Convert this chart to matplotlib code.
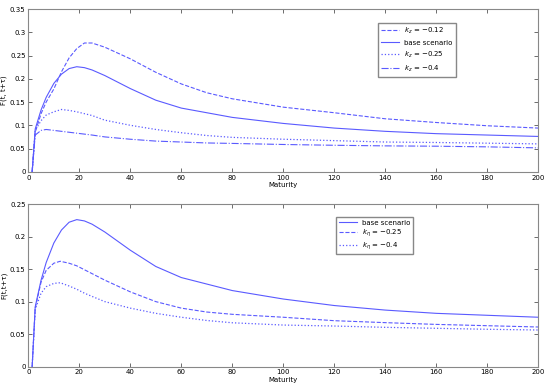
import matplotlib
matplotlib.use('Agg')
import matplotlib.pyplot as plt
from matplotlib.ticker import FormatStrFormatter

# maturities
t_top = [1.5, 2.7, 5, 7, 10, 13, 16, 19, 22, 25, 30, 40, 50, 60, 70, 80, 100, 120, 140, 160, 180, 200]

kz_012 = [0, 0.085, 0.125, 0.15, 0.178, 0.215, 0.245, 0.265, 0.277, 0.277, 0.268, 0.243, 0.214, 0.189, 0.170, 0.157, 0.139, 0.127, 0.114, 0.106, 0.099, 0.094]
base = [0, 0.092, 0.133, 0.16, 0.19, 0.21, 0.222, 0.226, 0.224, 0.219, 0.207, 0.179, 0.154, 0.137, 0.127, 0.117, 0.104, 0.094, 0.087, 0.082, 0.079, 0.076]
kz_025 = [0, 0.089, 0.11, 0.122, 0.129, 0.134, 0.132, 0.129, 0.125, 0.121, 0.111, 0.100, 0.091, 0.084, 0.078, 0.074, 0.070, 0.067, 0.064, 0.063, 0.0615, 0.060]
kz_04 = [0, 0.079, 0.089, 0.091, 0.089, 0.087, 0.085, 0.083, 0.081, 0.079, 0.075, 0.070, 0.066, 0.064, 0.062, 0.061, 0.0587, 0.057, 0.0557, 0.055, 0.0536, 0.0514]

t_bot = [1.5, 2.7, 5, 7, 10, 12.5, 16, 19, 22, 25, 30, 40, 50, 60, 70, 80, 100, 120, 140, 160, 180, 200]
keta_025 = [0, 0.09, 0.13, 0.148, 0.159, 0.162, 0.159, 0.155, 0.149, 0.143, 0.133, 0.115, 0.100, 0.090, 0.084, 0.0805, 0.076, 0.0707, 0.0677, 0.065, 0.063, 0.061]
keta_04 = [0, 0.088, 0.113, 0.123, 0.128, 0.129, 0.124, 0.119, 0.113, 0.108, 0.100, 0.090, 0.082, 0.076, 0.071, 0.0675, 0.064, 0.0625, 0.0605, 0.059, 0.0575, 0.0564]

col = '#5a5aff'
plt.rcParams['font.size'] = 5
plt.rcParams['axes.edgecolor'] = '#888888'

fig = plt.figure(figsize=(5.5, 3.86), dpi=100)
ax1 = fig.add_axes([0.0515, 0.555, 0.927, 0.4215])
ax2 = fig.add_axes([0.0515, 0.05, 0.927, 0.4215])

ax1.plot(t_top, kz_012, '--', color=col, lw=0.8, label='$k_z$ = \u22120.12')
ax1.plot(t_top, base, '-', color=col, lw=0.8, label='base scenario')
ax1.plot(t_top, kz_025, ':', color=col, lw=0.9, label='$k_z$ = \u22120.25')
ax1.plot(t_top, kz_04, '-.', color=col, lw=0.8, label='$k_z$ = \u22120.4')
ax1.set_ylim(0, 0.35)
ax1.set_yticks([0, 0.05, 0.1, 0.15, 0.2, 0.25, 0.3, 0.35])
ax1.set_ylabel('F(t, t+\u03c4)', labelpad=2)
ax1.legend(loc='upper right', bbox_to_anchor=(0.838, 0.915), borderaxespad=0,
           fancybox=False, edgecolor='#888888', framealpha=1,
           handlelength=2.6, labelspacing=0.55)

ax2.plot(t_top, base, '-', color=col, lw=0.8, label='base scenario')
ax2.plot(t_bot, keta_025, '--', color=col, lw=0.8, label='$k_\\eta$ = \u22120.25')
ax2.plot(t_bot, keta_04, ':', color=col, lw=0.9, label='$k_\\eta$ = \u22120.4')
ax2.set_ylim(0, 0.25)
ax2.set_yticks([0, 0.05, 0.1, 0.15, 0.2, 0.25])
ax2.set_ylabel('F(t,t+\u03c4)', labelpad=2)
ax2.legend(loc='upper left', bbox_to_anchor=(0.603, 0.92), borderaxespad=0,
           fancybox=False, edgecolor='#888888', framealpha=1,
           handlelength=2.6, labelspacing=0.2)

for ax in (ax1, ax2):
    ax.set_xlim(0, 200)
    ax.set_xticks(range(0, 201, 20))
    ax.set_xlabel('Maturity', labelpad=1)
    ax.yaxis.set_major_formatter(FormatStrFormatter('%g'))
    ax.tick_params(direction='in', top=True, right=True, length=3, width=0.6,
                   color='#555555', pad=2)

fig.savefig('out.png', dpi=100)
